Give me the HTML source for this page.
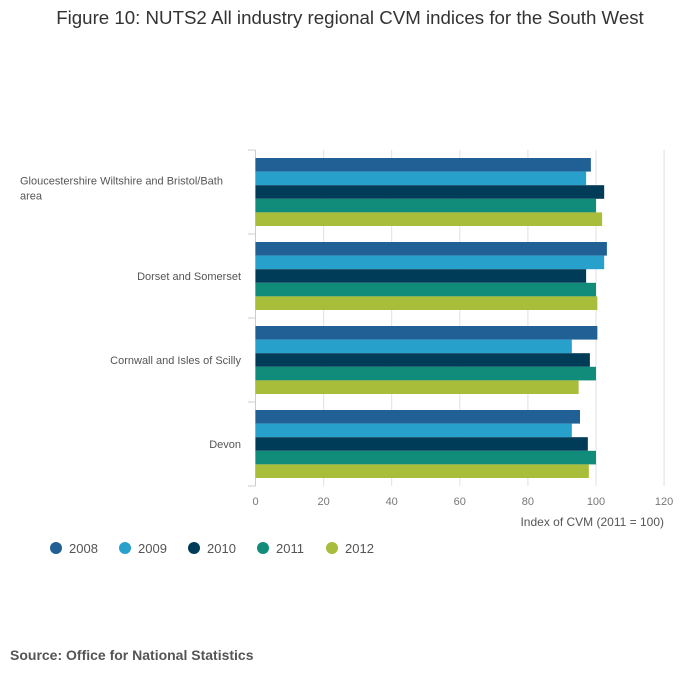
<!DOCTYPE html>
<html><head><meta charset="utf-8"><style>
body{margin:0;background:#fff;font-family:"Liberation Sans",sans-serif;}
</style></head><body>
<svg width="700" height="682" xmlns="http://www.w3.org/2000/svg" font-family="Liberation Sans, sans-serif">
<text x="350" y="24" text-anchor="middle" font-size="18.7" fill="#333">Figure 10: NUTS2 All industry regional CVM indices for the South West</text>
<g id="grid"></g><g id="bars"></g><g id="labels"></g><g id="legend"></g>
<text x="664" y="526" text-anchor="end" font-size="12" fill="#555">Index of CVM (2011 = 100)</text>
<text x="10" y="660" font-size="14" font-weight="bold" fill="#555">Source: Office for National Statistics</text>
</svg>
<script>
const categories=[["Gloucestershire Wiltshire and Bristol/Bath","area"],["Dorset and Somerset"],["Cornwall and Isles of Scilly"],["Devon"]];
const series=["2008","2009","2010","2011","2012"];
const v2008=[98.5,103.2,100.4,95.3];
const v2009=[97.1,102.4,92.9,92.9];
const v2010=[102.4,97.1,98.2,97.6];
const v2011=[100,100,100,100];
const v2012=[101.8,100.4,94.9,97.9];
const ticks=[0,20,40,60,80,100,120];
const colors=["#206095","#27a0cc","#003c57","#118c7b","#a8bd3a"];
const vals=[v2008,v2009,v2010,v2011,v2012];
const NS="http://www.w3.org/2000/svg";
const x=v=>255.5+v*3.405;
const top0=150,band=84;
function mk(t,a,p){const e=document.createElementNS(NS,t);for(const k in a)e.setAttribute(k,a[k]);p.appendChild(e);return e;}
const g=document.getElementById('grid'),b=document.getElementById('bars'),l=document.getElementById('labels'),lg=document.getElementById('legend');
ticks.forEach(t=>{
 if(t>0){const ln=mk('line',{x1:x(t),x2:x(t),y1:top0,y2:top0+band*4,stroke:'#e0e0e0'},g);
 
 }
 const tx=mk('text',{x:x(t),y:505,'text-anchor':'middle','font-size':11,fill:'#777'},l);tx.textContent=t;
 
 
});
mk('line',{x1:255.5,x2:255.5,y1:top0,y2:top0+band*4,stroke:'#ccc'},g);
for(let i=0;i<=4;i++)mk('line',{x1:248,x2:255.5,y1:top0+band*i,y2:top0+band*i,stroke:'#ccc'},g);
categories.forEach((c,i)=>{
 const yc=top0+band*i+band/2;
 const tx=mk('text',{x:241,'text-anchor':'end','font-size':11,fill:'#555'},l);
 
 
 c.forEach((s,j)=>{const ts=mk('tspan',{x:c.length>1?20:241,y:yc-4+(j-(c.length-1)/2)*15+ (c.length>1?4:8)},tx);ts.textContent=s;});
 if(c.length>1)tx.setAttribute('text-anchor','start');
 vals.forEach((arr,k)=>{
  const r=mk('rect',{x:x(0),y:top0+band*i+8+k*13.6,width:x(arr[i])-x(0),height:13.6,fill:colors[k]},b);
  
  
 });
});
series.forEach((s,k)=>{
 const gx=56+k*69;
 const c=mk('circle',{cx:gx,cy:548,r:6,fill:colors[k]},lg);
 
 
 const t=mk('text',{x:gx+13,y:553,'font-size':13,fill:'#555'},lg);t.textContent=s;
 
 
});
</script>
</body></html>
